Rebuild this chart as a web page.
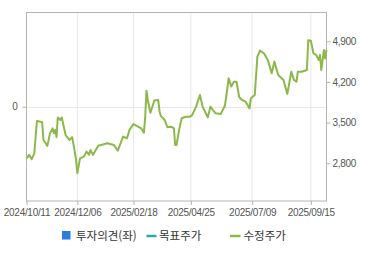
<!DOCTYPE html>
<html lang="ko">
  <head>
    <meta charset="UTF-8" />
    <title>수정주가</title>
    <script src="https://cdn.jsdelivr.net/npm/d3@7"></script>
    <style>
      body {
        margin: 0;
        padding: 0;
        background: #fff;
      }
      svg text {
        font-family: "Liberation Sans", Arial, sans-serif;
        font-size: 10px;
        fill: #555;
        letter-spacing: -0.3px;
      }
      .legend text {
        font-family: "Noto Sans CJK KR", sans-serif;
        font-size: 11.5px;
        fill: #333;
        letter-spacing: 0;
      }
    </style>
  </head>
  <body>
    <div id="chart"></div>
    <script>
      // trading-day index (0 = 2024/10/11) and adjusted close
      const dayIdx = [
        0, 2, 4, 6, 7, 8, 12, 13, 16, 18, 20, 21, 22, 23, 24, 26, 27, 30, 33,
        35, 37, 38, 39, 41, 44, 46, 48, 49, 51, 55, 62, 67, 70, 74, 77, 79, 82,
        88, 90, 91, 92, 93, 95, 98, 101, 102, 103, 106, 108, 111, 113, 114,
        115, 117, 119, 122, 125, 127, 130, 133, 135, 139, 141, 143, 145, 149,
        152, 153, 155, 157, 159, 161, 163, 165, 168, 171, 172, 175, 177, 179,
        182, 185, 188, 190, 193, 197, 198, 200, 203, 205, 207, 208, 211, 215,
        216, 218, 220, 222, 224, 225, 226, 228, 229, 230,
      ];
      const price = [
        2885, 2945, 2870, 2970, 3260, 3530, 3505, 3200, 3100, 3315, 3400, 3315,
        3375, 3250, 3590, 3545, 3590, 3285, 3200, 3250, 3000, 2855, 2630, 2885,
        2915, 3000, 2945, 3030, 2945, 3100, 3145, 3115, 3015, 3260, 3230, 3375,
        3475, 3400, 3325, 3600, 4050, 3890, 3670, 3880, 3890, 3690, 3615, 3545,
        3420, 3430, 3400, 3115, 3115, 3375, 3575, 3600, 3600, 3630, 3775, 3975,
        3775, 3590, 3775, 3715, 3660, 3650, 3785, 3920, 4265, 4120, 4205, 4205,
        3945, 3890, 3860, 3745, 3920, 3975, 4635, 4740, 4695, 4580, 4350, 4550,
        4320, 4235, 4150, 3995, 4375, 4235, 4205, 4375, 4375, 4405, 4920, 4910,
        4695, 4665, 4580, 4665, 4405, 4750, 4605, 4750,
      ];
      const tickIdx = [0, 39, 82, 126, 173, 218];
      const tickLabels = [
        "2024/10/11",
        "2024/12/06",
        "2025/02/18",
        "2025/04/25",
        "2025/07/09",
        "2025/09/15",
      ];
      const priceTicks = [2800, 3500, 4200, 4900];
      const opinionTicks = [0];
      const legendItems = ["투자의견(좌)", "목표주가", "수정주가"];

      const width = 370,
        height = 255;
      const margin = { top: 12.5, right: 43.5, bottom: 54, left: 26.5 };

      const svg = d3
        .select("#chart")
        .append("svg")
        .attr("width", width)
        .attr("height", height);

      const x = d3
        .scaleLinear()
        .domain([0, 230])
        .range([margin.left, width - margin.right]);
      const y = d3
        .scaleLinear()
        .domain([2150, 5396])
        .range([height - margin.bottom, margin.top]);
      const yLeft = d3
        .scaleLinear()
        .domain([-1, 1])
        .range([height - margin.bottom, margin.top]);

      const plotBottom = height - margin.bottom;
      const plotRight = width - margin.right;

      // vertical grid
      svg
        .append("g")
        .selectAll("line")
        .data(tickIdx)
        .enter()
        .append("line")
        .attr("x1", (d) => x(d))
        .attr("x2", (d) => x(d))
        .attr("y1", margin.top)
        .attr("y2", plotBottom)
        .attr("stroke", "#e8e8e8");

      // horizontal grid for left axis
      svg
        .append("g")
        .selectAll("line")
        .data(opinionTicks)
        .enter()
        .append("line")
        .attr("x1", margin.left)
        .attr("x2", plotRight)
        .attr("y1", (d) => Math.round(yLeft(d)) + 0.5)
        .attr("y2", (d) => Math.round(yLeft(d)) + 0.5)
        .attr("stroke", "#e8e8e8");

      // plot border
      svg
        .append("rect")
        .attr("x", margin.left)
        .attr("y", margin.top)
        .attr("width", plotRight - margin.left)
        .attr("height", plotBottom - margin.top)
        .attr("fill", "none")
        .attr("stroke", "#b4b4b4");

      // bottom axis
      const xAxis = svg
        .append("g")
        .attr("transform", `translate(0,${plotBottom})`)
        .call(
          d3
            .axisBottom(x)
            .tickValues(tickIdx)
            .tickFormat((d, i) => tickLabels[i])
            .tickSize(4)
            .tickPadding(4)
        );
      xAxis.select(".domain").remove();
      xAxis.selectAll("line").attr("stroke", "#b4b4b4");

      // right axis
      const yAxis = svg
        .append("g")
        .attr("transform", `translate(${plotRight},0)`)
        .call(
          d3
            .axisRight(y)
            .tickValues(priceTicks)
            .tickFormat(d3.format(","))
            .tickSize(4)
            .tickPadding(2)
        );
      yAxis.select(".domain").remove();
      yAxis.selectAll("line").attr("stroke", "#b4b4b4");

      // left axis
      const yAxisL = svg
        .append("g")
        .attr("transform", `translate(${margin.left},0)`)
        .call(
          d3
            .axisLeft(yLeft)
            .tickValues(opinionTicks)
            .tickFormat(d3.format("d"))
            .tickSize(4)
            .tickPadding(5)
        );
      yAxisL.select(".domain").remove();
      yAxisL.selectAll("line").attr("stroke", "#b4b4b4");

      svg.selectAll(".tick text").attr("fill", "#555");
      svg.selectAll(".tick text").attr("font-family", null).attr("font-size", null);

      // price line
      const line = d3
        .line()
        .x((d, i) => x(dayIdx[i]))
        .y((d) => y(d));

      svg
        .append("path")
        .datum(price)
        .attr("fill", "none")
        .attr("stroke", "#8cb84a")
        .attr("stroke-width", 2)
        .attr("stroke-linejoin", "round")
        .attr("d", line);

      // legend
      const legend = svg.append("g").attr("class", "legend");
      legend
        .append("rect")
        .attr("x", 62)
        .attr("y", 231)
        .attr("width", 8.5)
        .attr("height", 8.5)
        .attr("fill", "#2b7de0");
      legend
        .append("line")
        .attr("x1", 146.5)
        .attr("x2", 156.5)
        .attr("y1", 236)
        .attr("y2", 236)
        .attr("stroke", "#27a9b3")
        .attr("stroke-width", 2.5);
      legend
        .append("line")
        .attr("x1", 230)
        .attr("x2", 240.5)
        .attr("y1", 236)
        .attr("y2", 236)
        .attr("stroke", "#8cb84a")
        .attr("stroke-width", 2.5);
      const legendX = [76, 159, 243.5];
      legend
        .selectAll("text")
        .data(legendItems)
        .enter()
        .append("text")
        .attr("x", (d, i) => legendX[i])
        .attr("y", 240)
        .text((d) => d);
    </script>
  </body>
</html>
